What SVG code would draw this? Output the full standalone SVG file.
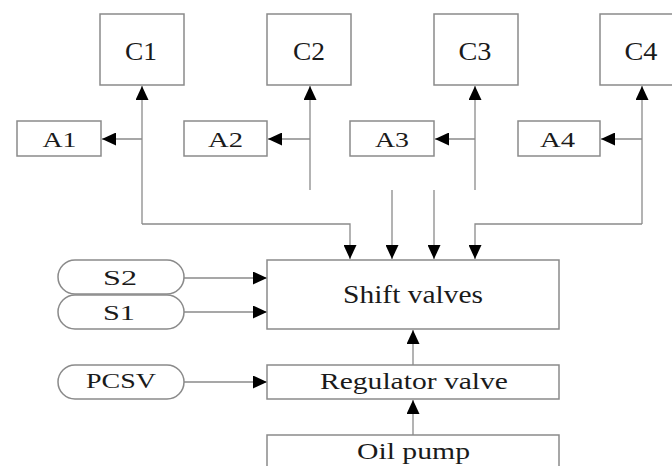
<svg xmlns="http://www.w3.org/2000/svg" width="672" height="466" viewBox="0 0 672 466">
<style>
.box{fill:#fff;stroke:#8a8a8a;stroke-width:1.5}
.ln{fill:none;stroke:#8a8a8a;stroke-width:1.3}
.arr{marker-end:url(#ah)}
text{font-family:"Liberation Serif","Times New Roman",serif;fill:#1a1a1a;text-anchor:middle}
</style>
<defs>
<marker id="ah" markerUnits="userSpaceOnUse" markerWidth="15" markerHeight="13" refX="14" refY="6.5" orient="auto" viewBox="0 0 15 13">
<path d="M0,0 L14,6.5 L0,13 z" fill="#000"/>
</marker>
</defs>
<rect width="672" height="466" fill="#fff"/>
<g id="connectors">
<path class="ln arr" d="M142,224 V86"/>
<path class="ln arr" d="M142,224 H350 V259"/>
<path class="ln arr" d="M142,139 H102"/>
<path class="ln arr" d="M310,190 V86"/>
<path class="ln arr" d="M310,139 H268"/>
<path class="ln arr" d="M475,190 V86"/>
<path class="ln arr" d="M475,139 H435"/>
<path class="ln arr" d="M642,224 V86"/>
<path class="ln arr" d="M642,139 H601"/>
<path class="ln arr" d="M642,224 H475 V259"/>
<path class="ln arr" d="M392,190 V259"/>
<path class="ln arr" d="M434,190 V259"/>
<path class="ln arr" d="M184,278 H267"/>
<path class="ln arr" d="M184,312 H267"/>
<path class="ln arr" d="M184,382 H267"/>
<path class="ln arr" d="M413,365 V330"/>
<path class="ln arr" d="M413,435 V400"/>
</g>
<g id="C1"><rect class="box" x="100" y="14" width="84" height="71"/><text x="141" y="60" font-size="25" textLength="32" lengthAdjust="spacingAndGlyphs">C1</text></g>
<g id="C2"><rect class="box" x="267" y="14" width="84" height="71"/><text x="309" y="60" font-size="25" textLength="32" lengthAdjust="spacingAndGlyphs">C2</text></g>
<g id="C3"><rect class="box" x="434" y="14" width="84" height="71"/><text x="475" y="60" font-size="25" textLength="33" lengthAdjust="spacingAndGlyphs">C3</text></g>
<g id="C4"><rect class="box" x="600" y="14" width="84" height="71"/><text x="641" y="60" font-size="25" textLength="33" lengthAdjust="spacingAndGlyphs">C4</text></g>
<g id="A1"><rect class="box" x="17" y="121" width="84" height="35"/><text x="59.5" y="147" font-size="22" textLength="34" lengthAdjust="spacingAndGlyphs">A1</text></g>
<g id="A2"><rect class="box" x="184" y="121" width="83" height="35"/><text x="225.5" y="147" font-size="22" textLength="35" lengthAdjust="spacingAndGlyphs">A2</text></g>
<g id="A3"><rect class="box" x="350" y="121" width="84" height="35"/><text x="392" y="147" font-size="22" textLength="34" lengthAdjust="spacingAndGlyphs">A3</text></g>
<g id="A4"><rect class="box" x="518" y="121" width="82" height="35"/><text x="557.5" y="147" font-size="22" textLength="35" lengthAdjust="spacingAndGlyphs">A4</text></g>
<g id="S2"><rect class="box" x="58" y="260" width="126" height="34" rx="17" ry="17"/><text x="120" y="285" font-size="20" textLength="34" lengthAdjust="spacingAndGlyphs">S2</text></g>
<g id="S1"><rect class="box" x="58" y="295" width="126" height="34" rx="17" ry="17"/><text x="119" y="320" font-size="20" textLength="32" lengthAdjust="spacingAndGlyphs">S1</text></g>
<g id="PCSV"><rect class="box" x="58" y="365" width="126" height="34" rx="17" ry="17"/><text x="121" y="388" font-size="21" textLength="70" lengthAdjust="spacingAndGlyphs">PCSV</text></g>
<g id="shift-valves"><rect class="box" x="267" y="260" width="292" height="69"/><text x="413" y="303" font-size="26" textLength="140" lengthAdjust="spacingAndGlyphs">Shift valves</text></g>
<g id="regulator-valve"><rect class="box" x="267" y="365" width="292" height="34"/><text x="414" y="389" font-size="23" textLength="188" lengthAdjust="spacingAndGlyphs">Regulator valve</text></g>
<g id="oil-pump"><rect class="box" x="267" y="435" width="292" height="40"/><text x="413.5" y="459" font-size="24" textLength="113" lengthAdjust="spacingAndGlyphs">Oil pump</text></g>
</svg>
